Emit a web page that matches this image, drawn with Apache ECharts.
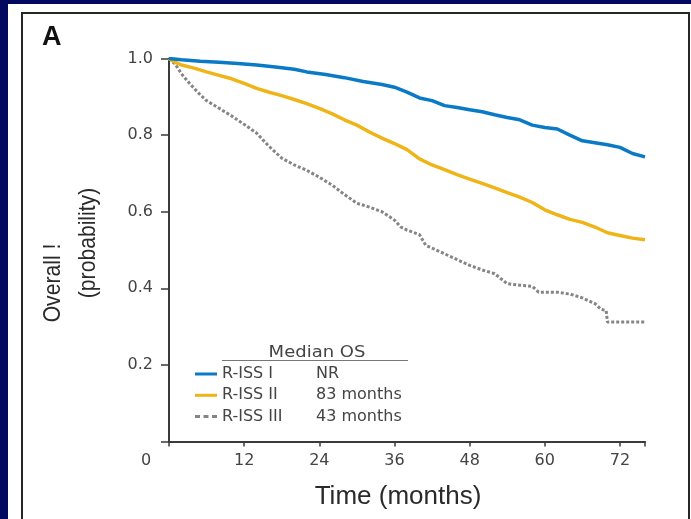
<!DOCTYPE html>
<html>
<head>
<meta charset="utf-8">
<script src="https://cdn.jsdelivr.net/npm/echarts@6/dist/echarts.min.js"></script>
<style>
html,body{margin:0;padding:0;background:#03095e;}
#chart{width:691px;height:519px;}
</style>
</head>
<body>
<div id="chart"></div>
<script>
// ---- data (months, survival probability) ----
const xTicks = [12, 24, 36, 48, 60, 72];
const yTicks = [0.2, 0.4, 0.6, 0.8, 1.0];
const seriesNames = ['R-ISS I', 'R-ISS II', 'R-ISS III'];
const medianOS = ['NR', '83 months', '43 months'];

const timeI = [0,2,5,8,11,14,17,20,22,25,28,31,34,36,38,40,42,44,46,48,50,52,54,56,58,60,62,64,66,68,70,72,74,76];
const survI = [1.0,0.997,0.993,0.99,0.987,0.983,0.978,0.972,0.965,0.958,0.95,0.94,0.932,0.925,0.912,0.897,0.89,0.877,0.872,0.866,0.861,0.853,0.846,0.84,0.826,0.82,0.816,0.8,0.785,0.78,0.775,0.768,0.752,0.743];

const timeII = [0,1,2,4,6,8,10,12,14,16,18,20,22,24,26,28,30,32,34,36,38,40,42,44,46,48,50,52,54,56,58,60,62,64,66,68,70,72,74,76];
const survII = [1.0,0.99,0.983,0.975,0.965,0.956,0.947,0.935,0.922,0.912,0.903,0.893,0.882,0.87,0.856,0.84,0.826,0.808,0.792,0.778,0.762,0.738,0.722,0.71,0.697,0.685,0.674,0.662,0.65,0.638,0.624,0.605,0.592,0.58,0.572,0.56,0.545,0.538,0.531,0.527];

const timeIII = [0,1,2,3,4,5,6,8,10,12,14,16,18,20,22,24,26,28,30,32,34,36,37,38,40,41,42,44,46,48,50,52,54,56,58,59,62,64,66,68,69,69.8,70,72,74,76];
const survIII = [1.0,0.985,0.96,0.94,0.922,0.905,0.89,0.87,0.85,0.828,0.805,0.77,0.74,0.722,0.708,0.69,0.67,0.645,0.622,0.612,0.6,0.578,0.56,0.552,0.54,0.512,0.505,0.49,0.475,0.46,0.448,0.438,0.412,0.408,0.405,0.39,0.39,0.385,0.375,0.36,0.345,0.342,0.312,0.312,0.312,0.312];

const colors = ['#0a7ac6', '#eeb418', '#858585'];

function pairs(t, s) { return t.map((v, i) => [v, s[i]]); }

const chart = echarts.init(document.getElementById('chart'), null, {renderer: 'canvas'});
const tickFont = '"DejaVu Sans", sans-serif';
const dashIcon = 'path://M0,0h5v3h-5z M8.5,0h5v3h-5z M17,0h5v3h-5z';

chart.setOption({
  backgroundColor: '#03095e',
  animation: false,
  grid: {left: 169, right: 46, top: 58.5, bottom: 77.5},
  xAxis: {
    type: 'value', min: 0, max: 76, interval: 12,
    axisLine: {show: true, lineStyle: {color: '#3a3a3a', width: 2}},
    axisTick: {show: true, length: 5, lineStyle: {color: '#3a3a3a', width: 1.5}},
    axisLabel: {margin: 11, color: '#444', fontSize: 16, fontFamily: tickFont,
      formatter: v => xTicks.indexOf(v) >= 0 ? String(v) : ''},
    splitLine: {show: false}
  },
  yAxis: {
    type: 'value', min: 0, max: 1, interval: 0.2,
    axisLine: {show: true, lineStyle: {color: '#3a3a3a', width: 2}},
    axisTick: {show: true, length: 8, lineStyle: {color: '#3a3a3a', width: 1.5}},
    axisLabel: {margin: 16, color: '#444', fontSize: 16, fontFamily: tickFont,
      formatter: v => yTicks.some(t => Math.abs(t - v) < 1e-6) ? v.toFixed(1) : ''},
    splitLine: {show: false}
  },
  legend: {
    orient: 'vertical', left: 195, top: 366, padding: 0,
    itemWidth: 22, itemHeight: 3, itemGap: 5.3,
    data: [
      {name: seriesNames[0], icon: 'rect'},
      {name: seriesNames[1], icon: 'rect'},
      {name: seriesNames[2], icon: dashIcon}
    ],
    textStyle: {color: '#444', fontSize: 16, fontFamily: tickFont, lineHeight: 16,
      rich: {n: {width: 94, fontSize: 16, fontFamily: tickFont, color: '#444', lineHeight: 16},
             m: {fontSize: 16, fontFamily: tickFont, color: '#444', lineHeight: 16}}},
    formatter: name => '{n|' + name + '}{m|' + medianOS[seriesNames.indexOf(name)] + '}'
  },
  graphic: [
    {type: 'rect', z: -10, shape: {x: 8, y: 4, width: 683, height: 515}, style: {fill: '#ffffff'}},
    {type: 'rect', z: -9, shape: {x: 22, y: 13, width: 667, height: 520}, style: {fill: 'none', stroke: '#262626', lineWidth: 2}},
    {type: 'text', x: 42, y: 24, style: {text: 'A', font: 'bold 27px "Liberation Sans", Arial, sans-serif', fill: '#111'}},
    {type: 'text', x: 146, y: 461, style: {text: '0', font: '16px "DejaVu Sans", sans-serif', fill: '#444', align: 'center', verticalAlign: 'middle'}},
    {type: 'text', x: 398, y: 497, style: {text: 'Time (months)', font: '26px "Liberation Sans", Arial, sans-serif', fill: '#2a2a2a', align: 'center', verticalAlign: 'middle'}},
    {type: 'text', x: 53, y: 283, rotation: Math.PI / 2, scaleX: 0.88, style: {text: 'Overall !', font: '24px "Liberation Sans", Arial, sans-serif', fill: '#2a2a2a', align: 'center', verticalAlign: 'middle'}},
    {type: 'text', x: 88, y: 243, rotation: Math.PI / 2, scaleX: 0.88, style: {text: '(probability)', font: '24px "Liberation Sans", Arial, sans-serif', fill: '#2a2a2a', align: 'center', verticalAlign: 'middle'}},
    {type: 'text', x: 317, y: 353, scaleX: 1.2, style: {text: 'Median OS', font: '15px "DejaVu Sans", sans-serif', fill: '#444', align: 'center', verticalAlign: 'middle'}},
    {type: 'line', shape: {x1: 222, y1: 360.5, x2: 408, y2: 360.5}, style: {stroke: '#777', lineWidth: 1}}
  ],
  series: [
    {name: seriesNames[0], type: 'line', symbol: 'none', data: pairs(timeI, survI),
     lineStyle: {color: colors[0], width: 3.5}, itemStyle: {color: colors[0]}, z: 3},
    {name: seriesNames[1], type: 'line', symbol: 'none', data: pairs(timeII, survII),
     lineStyle: {color: colors[1], width: 3.5}, itemStyle: {color: colors[1]}, z: 2},
    {name: seriesNames[2], type: 'line', symbol: 'none', data: pairs(timeIII, survIII),
     lineStyle: {color: colors[2], width: 3, type: [3, 2]}, itemStyle: {color: colors[2]}, z: 1}
  ]
});
</script>
</body>
</html>
